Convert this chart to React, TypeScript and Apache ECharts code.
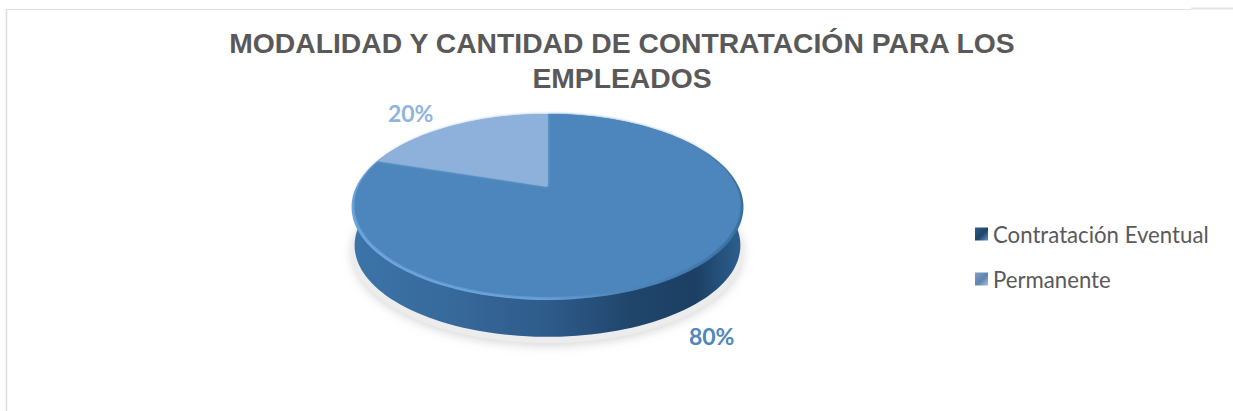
import React, { useEffect, useRef } from "react";
import * as echarts from "echarts";

const titleLines = ["MODALIDAD Y CANTIDAD DE CONTRATACIÓN PARA LOS", "EMPLEADOS"];
const categories = ["Contratación Eventual", "Permanente"];
const values = [80, 20];

const total = values.reduce((a, b) => a + b, 0);
const topColors = ["#4E86BC", "#8DB1DB"];
const labelColors = ["#4F86BD", "#8FB4E0"];
const labelOffsets = [[28, 62], [-41, -13]];

// Perspective disc: centre of the slices, half axes and the tilt strength.
const CX = 547.5, CY = 187, A = 191.4, B = 88.7, K = 0.215, DEPTH = 39;

function project(deg: number, r = 1, dy = 0, dx = 0) {
  const t = (deg * Math.PI) / 180;
  const u = Math.sin(t) * r;
  const v = -Math.cos(t) * r;
  const d = 1 - K * v;
  return [CX + dx + (A * u) / d, CY + dy + (B * v) / d];
}

function arcPoints(a: number, b: number, r = 1, dy = 0, dx = 0) {
  const n = Math.max(2, Math.ceil(Math.abs(b - a) / 2));
  const pts: number[][] = [];
  for (let i = 0; i <= n; i++) pts.push(project(a + ((b - a) * i) / n, r, dy, dx));
  return pts;
}

const toPath = (pts: number[][]) =>
  "M" + pts.map((p) => p[0].toFixed(2) + " " + p[1].toFixed(2)).join("L") + "Z";

function grad(x: number, y: number, x2: number, y2: number, stops: [number, string][]) {
  return new echarts.graphic.LinearGradient(
    x, y, x2, y2, stops.map(([offset, color]) => ({ offset, color }))
  );
}

function sliceRenderer(index: number) {
  return (_params: any, api: any) => {
    const before = values.slice(0, index).reduce((a, b) => a + b, 0);
    const val = api.value(0);
    const a0 = (before / total) * 360;
    const a1 = ((before + val) / total) * 360;
    const mid = (a0 + a1) / 2;
    const apex = project(0, 0);
    const base = index * 10;
    const children: any[] = [];

    // Front wall and soft shadow below it: only where the slice reaches the front.
    const w0 = Math.max(a0, 65);
    const w1 = Math.min(a1, 285);
    if (w1 > w0) {
      children.push({
        type: "path",
        z2: base + 1,
        shape: { pathData: toPath(arcPoints(0, 360, 1, DEPTH + 4)) },
        style: { fill: "#ececec", shadowBlur: 10, shadowColor: "rgba(160,160,160,0.4)", shadowOffsetY: 3 },
      });
      const wall = [...arcPoints(w0, w1, 0.99, 0), ...arcPoints(w1, w0, 0.985, DEPTH)];
      children.push({
        type: "path",
        z2: base + 2,
        shape: { pathData: toPath(wall) },
        style: {
          fill: grad(0, 0, 1, 0, [
            [0, "#3C74A8"],
            [0.25, "#37699B"],
            [0.5, "#2E5B8A"],
            [0.72, "#20456B"],
            [0.88, "#1C3F63"],
            [1, "#2C6090"],
          ]),
        },
      });
    }

    const slice = (r: number) => [apex, ...arcPoints(a0, a1, r)];
    const rimStops: [number, string][] = index === 0
      ? [[0, "#6FA7DE"], [0.3, "#6BA3DB"], [0.5, "#4F86BC"], [0.75, "#3F74A8"], [1, "#356894"]]
      : [[0, "#7AA4D0"], [1, "#8DB1DB"]];
    children.push({
      type: "path",
      z2: base + 3,
      shape: { pathData: toPath(slice(1)) },
      style: { fill: grad(0, 0.7, 1, 0.3, rimStops) },
    });
    children.push({
      type: "path",
      z2: base + 4,
      shape: { pathData: toPath(slice(0.985).map((p) => [p[0], p[1] - 1])) },
      style: { fill: topColors[index], shadowBlur: 3, shadowColor: topColors[index] },
    });

    const at = project(mid);
    children.push({
      type: "text",
      z2: base + 5,
      x: at[0] + labelOffsets[index][0],
      y: at[1] + labelOffsets[index][1],
      style: {
        text: Math.round((val / total) * 100) + "%",
        fill: labelColors[index],
        font: "bold 23px Lato",
        align: "center",
        verticalAlign: "middle",
      },
    });
    return { type: "group", children };
  };
}

const legendSwatches = [
  grad(0, 0, 1, 1, [[0, "#2E5F8E"], [0.55, "#1F4468"], [1, "#5E95C9"]]),
  grad(0, 0, 1, 1, [[0, "#7E9FC5"], [0.55, "#5E84AE"], [1, "#A6C2E2"]]),
];

export default function App() {
  const ref = useRef<HTMLDivElement>(null);
  useEffect(() => {
    const chart = echarts.init(ref.current!, undefined, { renderer: "svg" });
    chart.setOption({
      animation: false,
      backgroundColor: "#ffffff",
      title: {
        text: titleLines.join("\n"),
        left: 617,
        top: 20,
        textAlign: "center",
        textStyle: {
          fontFamily: "Liberation Sans",
          fontWeight: "bold",
          fontSize: 28.3,
          lineHeight: 35,
          color: "#595959",
        },
      },
      legend: {
        orient: "vertical",
        left: 975,
        top: 223,
        padding: 0,
        icon: "rect",
        itemWidth: 13,
        itemHeight: 13,
        itemGap: 23,
        selectedMode: false,
        textStyle: { fontFamily: "Lato", fontSize: 22.2, color: "#595959", padding: [0, 0, 0, 0] },
        data: categories.map((name, i) => ({ name, itemStyle: { color: legendSwatches[i] } })),
      },
      graphic: [
        { type: "line", shape: { x1: 6.5, y1: 9, x2: 6.5, y2: 411 }, style: { stroke: "#dcdcdc", lineWidth: 1.5 } },
        { type: "line", shape: { x1: 6, y1: 9.5, x2: 1191, y2: 9.5 }, style: { stroke: "#e2e2e2", lineWidth: 1 } },
        { type: "line", shape: { x1: 1191, y1: 8.5, x2: 1233, y2: 8.5 }, style: { stroke: "#e4e4e4", lineWidth: 2 } },
      ],
      series: categories.map((name, i) => ({
        type: "custom",
        name,
        coordinateSystem: "none",
        itemStyle: { color: topColors[i] },
        data: [[values[i]]],
        renderItem: sliceRenderer(i),
      })),
    });
    return () => chart.dispose();
  }, []);
  return <div ref={ref} style={{ position: "absolute", left: 0, top: 0, width: 1233, height: 411 }} />;
}
